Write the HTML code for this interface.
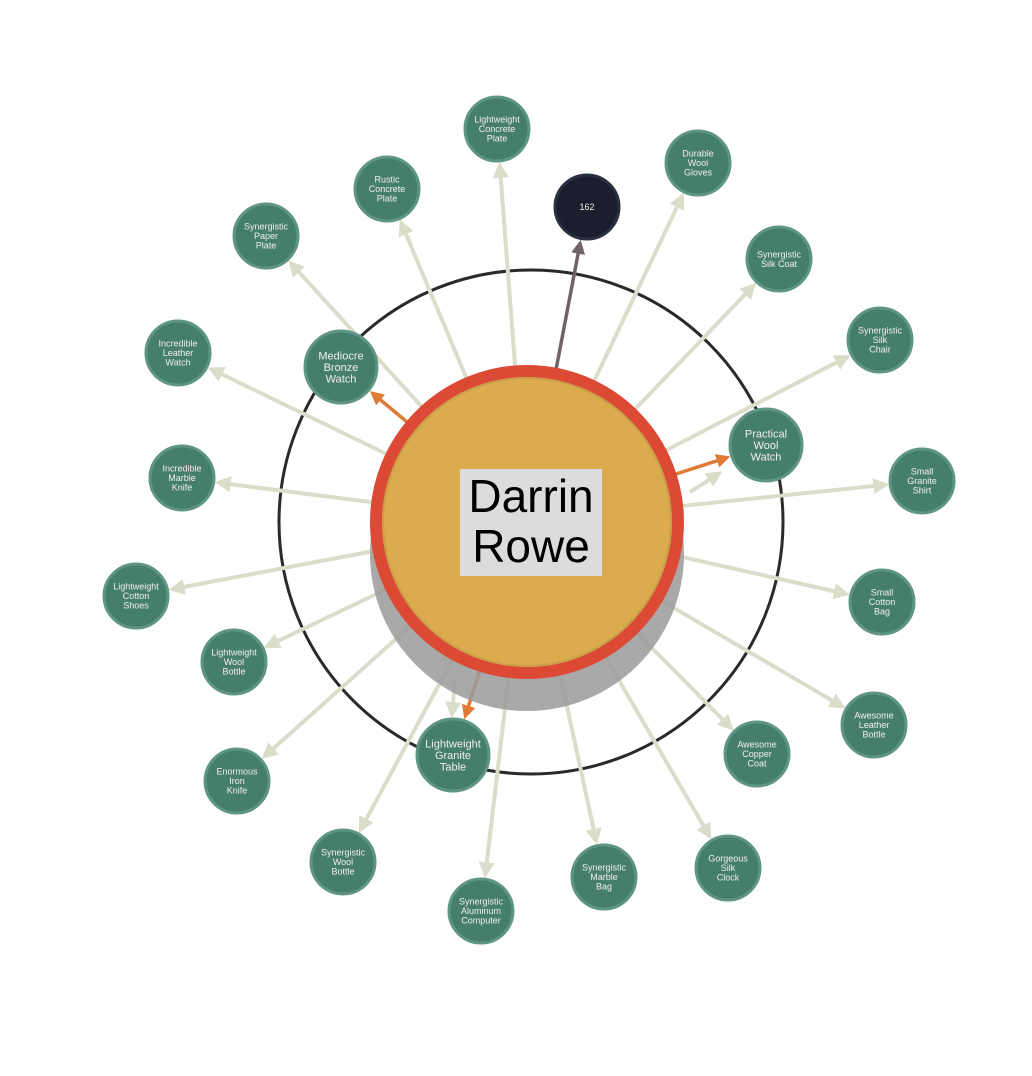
<!DOCTYPE html>
<html><head><meta charset="utf-8"><style>
body{margin:0;background:#fff;}
svg{display:block;font-family:"Liberation Sans",sans-serif;}
</style></head><body>
<svg id="g" width="1032" height="1076">
<defs>
<marker id="ab" markerWidth="4" markerHeight="4" refX="3" refY="2" orient="auto" markerUnits="strokeWidth"><path d="M0,0 L4,2 L0,4 Z" fill="#dcdccb"/></marker>
<marker id="ao" markerWidth="4" markerHeight="4" refX="3" refY="2" orient="auto" markerUnits="strokeWidth"><path d="M0,0 L4,2 L0,4 Z" fill="#e07b35"/></marker>
<marker id="ad" markerWidth="4" markerHeight="4" refX="3" refY="2" orient="auto" markerUnits="strokeWidth"><path d="M0,0 L4,2 L0,4 Z" fill="#6e6466"/></marker>
</defs>
<circle cx="531" cy="522" r="252" fill="none" stroke="#2a2a2a" stroke-width="3"/>
<g id="edges"></g>
<circle cx="527" cy="554" r="157" fill="#9a9a9a" opacity="0.85"/>
<circle cx="527" cy="522" r="151" fill="#dbab4e" stroke="#dc4a35" stroke-width="12"/>
<circle cx="527" cy="522" r="144" fill="none" stroke="#c9a04a" stroke-width="2"/>
<rect x="460" y="469" width="142" height="107" fill="#dcdcdc"/>
<text x="531" y="512" text-anchor="middle" font-size="46" fill="#000">Darrin</text>
<text x="531" y="562" text-anchor="middle" font-size="46" fill="#000">Rowe</text>
<g id="nodes"></g>
</svg>
<script>
const labels=["Lightweight|Concrete|Plate","Durable|Wool|Gloves","162","Rustic|Concrete|Plate","Synergistic|Paper|Plate","Synergistic|Silk Coat","Synergistic|Silk|Chair","Incredible|Leather|Watch","Mediocre|Bronze|Watch","Practical|Wool|Watch","Small|Granite|Shirt","Incredible|Marble|Knife","Lightweight|Cotton|Shoes","Small|Cotton|Bag","Lightweight|Wool|Bottle","Awesome|Leather|Bottle","Awesome|Copper|Coat","Lightweight|Granite|Table","Enormous|Iron|Knife","Gorgeous|Silk|Clock","Synergistic|Wool|Bottle","Synergistic|Marble|Bag","Synergistic|Aluminum|Computer"];
const nodeX=[497,698,587,387,266,779,880,178,341,766,922,182,136,882,234,874,757,453,237,728,343,604,481];
const nodeY=[129,163,207,189,236,259,340,353,367,445,481,478,596,602,662,725,754,755,781,868,862,877,911];
const kinds=["b","b","d","b","b","b","b","b","o","o","b","b","b","b","b","b","b","o","b","b","b","b","b"];
const CX=527,CY=522,NS="http://www.w3.org/2000/svg";
const eg=document.getElementById('edges'),ng=document.getElementById('nodes');
const col={b:"#dcdccb",o:"#e07b35",d:"#6e6466"};
function edge(x1,y1,x2,y2,k){const l=document.createElementNS(NS,'line');
l.setAttribute('x1',x1);l.setAttribute('y1',y1);l.setAttribute('x2',x2);l.setAttribute('y2',y2);
l.setAttribute('stroke',col[k]);l.setAttribute('stroke-width',k==="b"?4:3.5);l.setAttribute('marker-end','url(#a'+k+')');


eg.appendChild(l);}
labels.forEach((t,i)=>{
 const big=kinds[i]==="o",r=big?36:32;
 const dx=nodeX[i]-CX,dy=nodeY[i]-CY,d=Math.hypot(dx,dy);
 const s=152,e=d-r-5;
 edge(CX+dx*s/d,CY+dy*s/d,CX+dx*e/d,CY+dy*e/d,kinds[i]);
 if(big){
   if(i===9) edge(690,492,CX+dx*e/d-8,CY+dy*e/d+16,"b");
   if(i===17) edge(455,680,452,714,"b");
 }
});
labels.forEach((t,i)=>{
 const big=kinds[i]==="o",dark=kinds[i]==="d",r=big?36:32;
 const g=document.createElementNS(NS,'g');
 
 
 const c=document.createElementNS(NS,'circle');
 c.setAttribute('cx',nodeX[i]);c.setAttribute('cy',nodeY[i]);c.setAttribute('r',r);
 c.setAttribute('fill',dark?"#1b1f2d":"#467e6c");c.setAttribute('stroke',dark?"#2b3040":"#5f9584");c.setAttribute('stroke-width',3);
 g.appendChild(c);
 const lines=t.split('|'),fs=big?11:9,lh=big?11.5:9.5;
 lines.forEach((ln,j)=>{const tx=document.createElementNS(NS,'text');
  tx.setAttribute('x',nodeX[i]);tx.setAttribute('y',nodeY[i]+(j-(lines.length-1)/2)*lh+fs*0.35);
  tx.setAttribute('text-anchor','middle');tx.setAttribute('font-size',fs);tx.setAttribute('fill','#f0f0ea');
  tx.textContent=ln;g.appendChild(tx);});
 ng.appendChild(g);
});
</script>
</body></html>
